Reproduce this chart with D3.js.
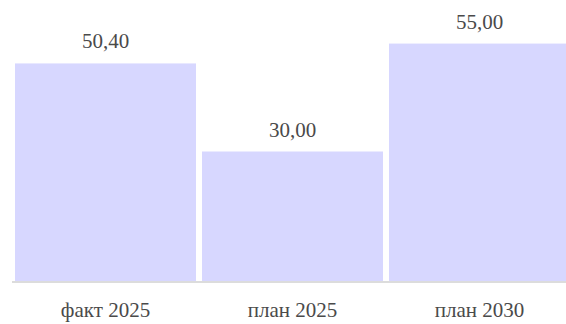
<!DOCTYPE html>
<html>
<head>
<meta charset="utf-8">
<script src="https://cdn.jsdelivr.net/npm/d3@7"></script>
<style>
html, body { margin: 0; padding: 0; background: #fff; overflow: hidden; }
svg { display: block; }
svg text { font-family: Tinos, "Liberation Serif", "Noto Serif", "DejaVu Serif", "Times New Roman", Times, Georgia, serif; }
</style>
</head>
<body>
<svg id="chart" width="566" height="324"></svg>
<script>
const categories = ["факт 2025", "план 2025", "план 2030"];
const values = [50.40, 30.00, 55.00];
const yDomain = [0, 60];

const svg = d3.select("#chart");

const x = d3.scaleBand().domain(categories).range([12, 573]).paddingInner(0.032).paddingOuter(0.016);
const y = d3.scaleLinear().domain(yDomain).range([281, 22]);

const fmt = v => d3.format(".2f")(v).replace(".", ",");

svg.selectAll("rect.bar").data(values).join("rect")
  .attr("class", "bar")
  .attr("x", (d, i) => x(categories[i]))
  .attr("width", x.bandwidth())
  .attr("y", d => y(d))
  .attr("height", d => y(0) - y(d))
  .attr("fill", "#d7d7ff");

const xAxis = d3.axisBottom(x).tickSize(0).tickPadding(21);
const gx = svg.append("g").attr("transform", `translate(0,${y(0)})`).call(xAxis)
  .attr("font-family", null);
gx.select(".domain").attr("stroke", "#dcdcdc").attr("stroke-width", 2).attr("d", `M12,1H573`);
gx.selectAll("text")
  .style("font-size", "21px").attr("fill", "#4a4a4a");

svg.selectAll("text.val").data(values).join("text")
  .attr("class", "val")
  .attr("x", (d, i) => x(categories[i]) + x.bandwidth() / 2)
  .attr("y", d => y(d) - 15)
  .attr("text-anchor", "middle")
  .style("font-size", "21px").attr("fill", "#4a4a4a")
  .text(d => fmt(d));
</script>
</body>
</html>
